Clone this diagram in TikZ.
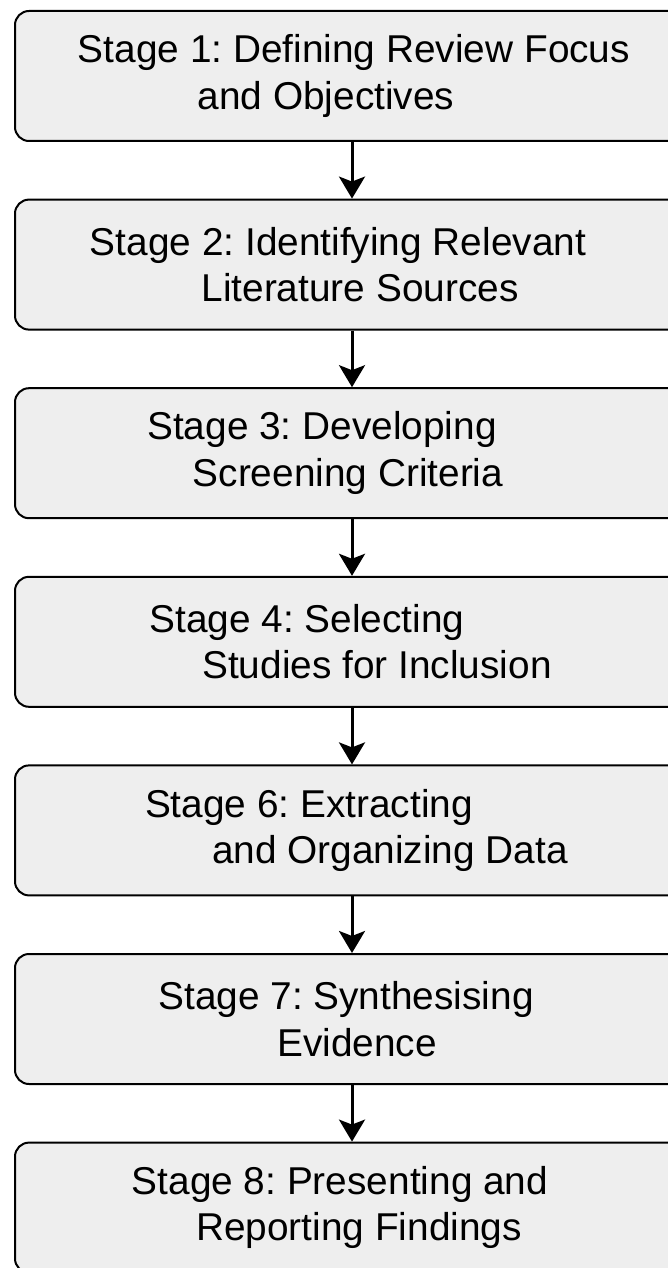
\documentclass[tikz,border=0pt]{standalone}
\usepackage{fontspec}
\setmainfont{Liberation Sans}
\usepackage{xcolor}
\usetikzlibrary{arrows.meta, positioning}
\definecolor{boxgray}{RGB}{238,238,238}
\frenchspacing

\begin{document}
\begin{tikzpicture}[x=1pt,y=1pt,node distance=188.6pt,>={Stealth[length=22pt,width=26pt,inset=5pt]}]
  \tikzstyle{stagebox}=[draw,line width=2pt,rounded corners=14pt,fill=boxgray,
    minimum width=674pt,minimum height=130pt,align=center,
    font=\fontsize{38.8}{46.5}\selectfont]

  \useasboundingbox (0,0) rectangle (667,-1268);

  \node[stagebox]               (st_1) at (352,-76) {\hspace*{4pt}Stage 1: Defining Review Focus\\\hspace*{-52pt}and Objectives};
  \node[stagebox] (st_2) [below of=st_1] {\hspace*{-28pt}Stage 2: Identifying Relevant\\\hspace*{16pt}Literature Sources};
  \node[stagebox] (st_3) [below of=st_2] {\hspace*{-60pt}Stage 3: Developing\\\hspace*{-8pt}Screening Criteria};
  \node[stagebox] (st_4) [below of=st_3] {\hspace*{-90pt}Stage 4: Selecting\\\hspace*{50pt}Studies for Inclusion};
  \node[stagebox] (st_6) [below of=st_4] {\hspace*{-86pt}Stage 6: Extracting\\\hspace*{76pt}and Organizing Data};
  \node[stagebox] (st_7) [below of=st_6] {\hspace*{-12pt}Stage 7: Synthesising\\\hspace*{10pt}Evidence};
  \node[stagebox] (st_8) [below of=st_7] {\hspace*{-24pt}Stage 8: Presenting and\\\hspace*{14pt}Reporting Findings};

  \path[->,line width=3pt]
  (st_1) edge (st_2)
  (st_2) edge (st_3)
  (st_3) edge (st_4)
  (st_4) edge (st_6)
  (st_6) edge (st_7)
  (st_7) edge (st_8)
  ;
\end{tikzpicture}
\end{document}
